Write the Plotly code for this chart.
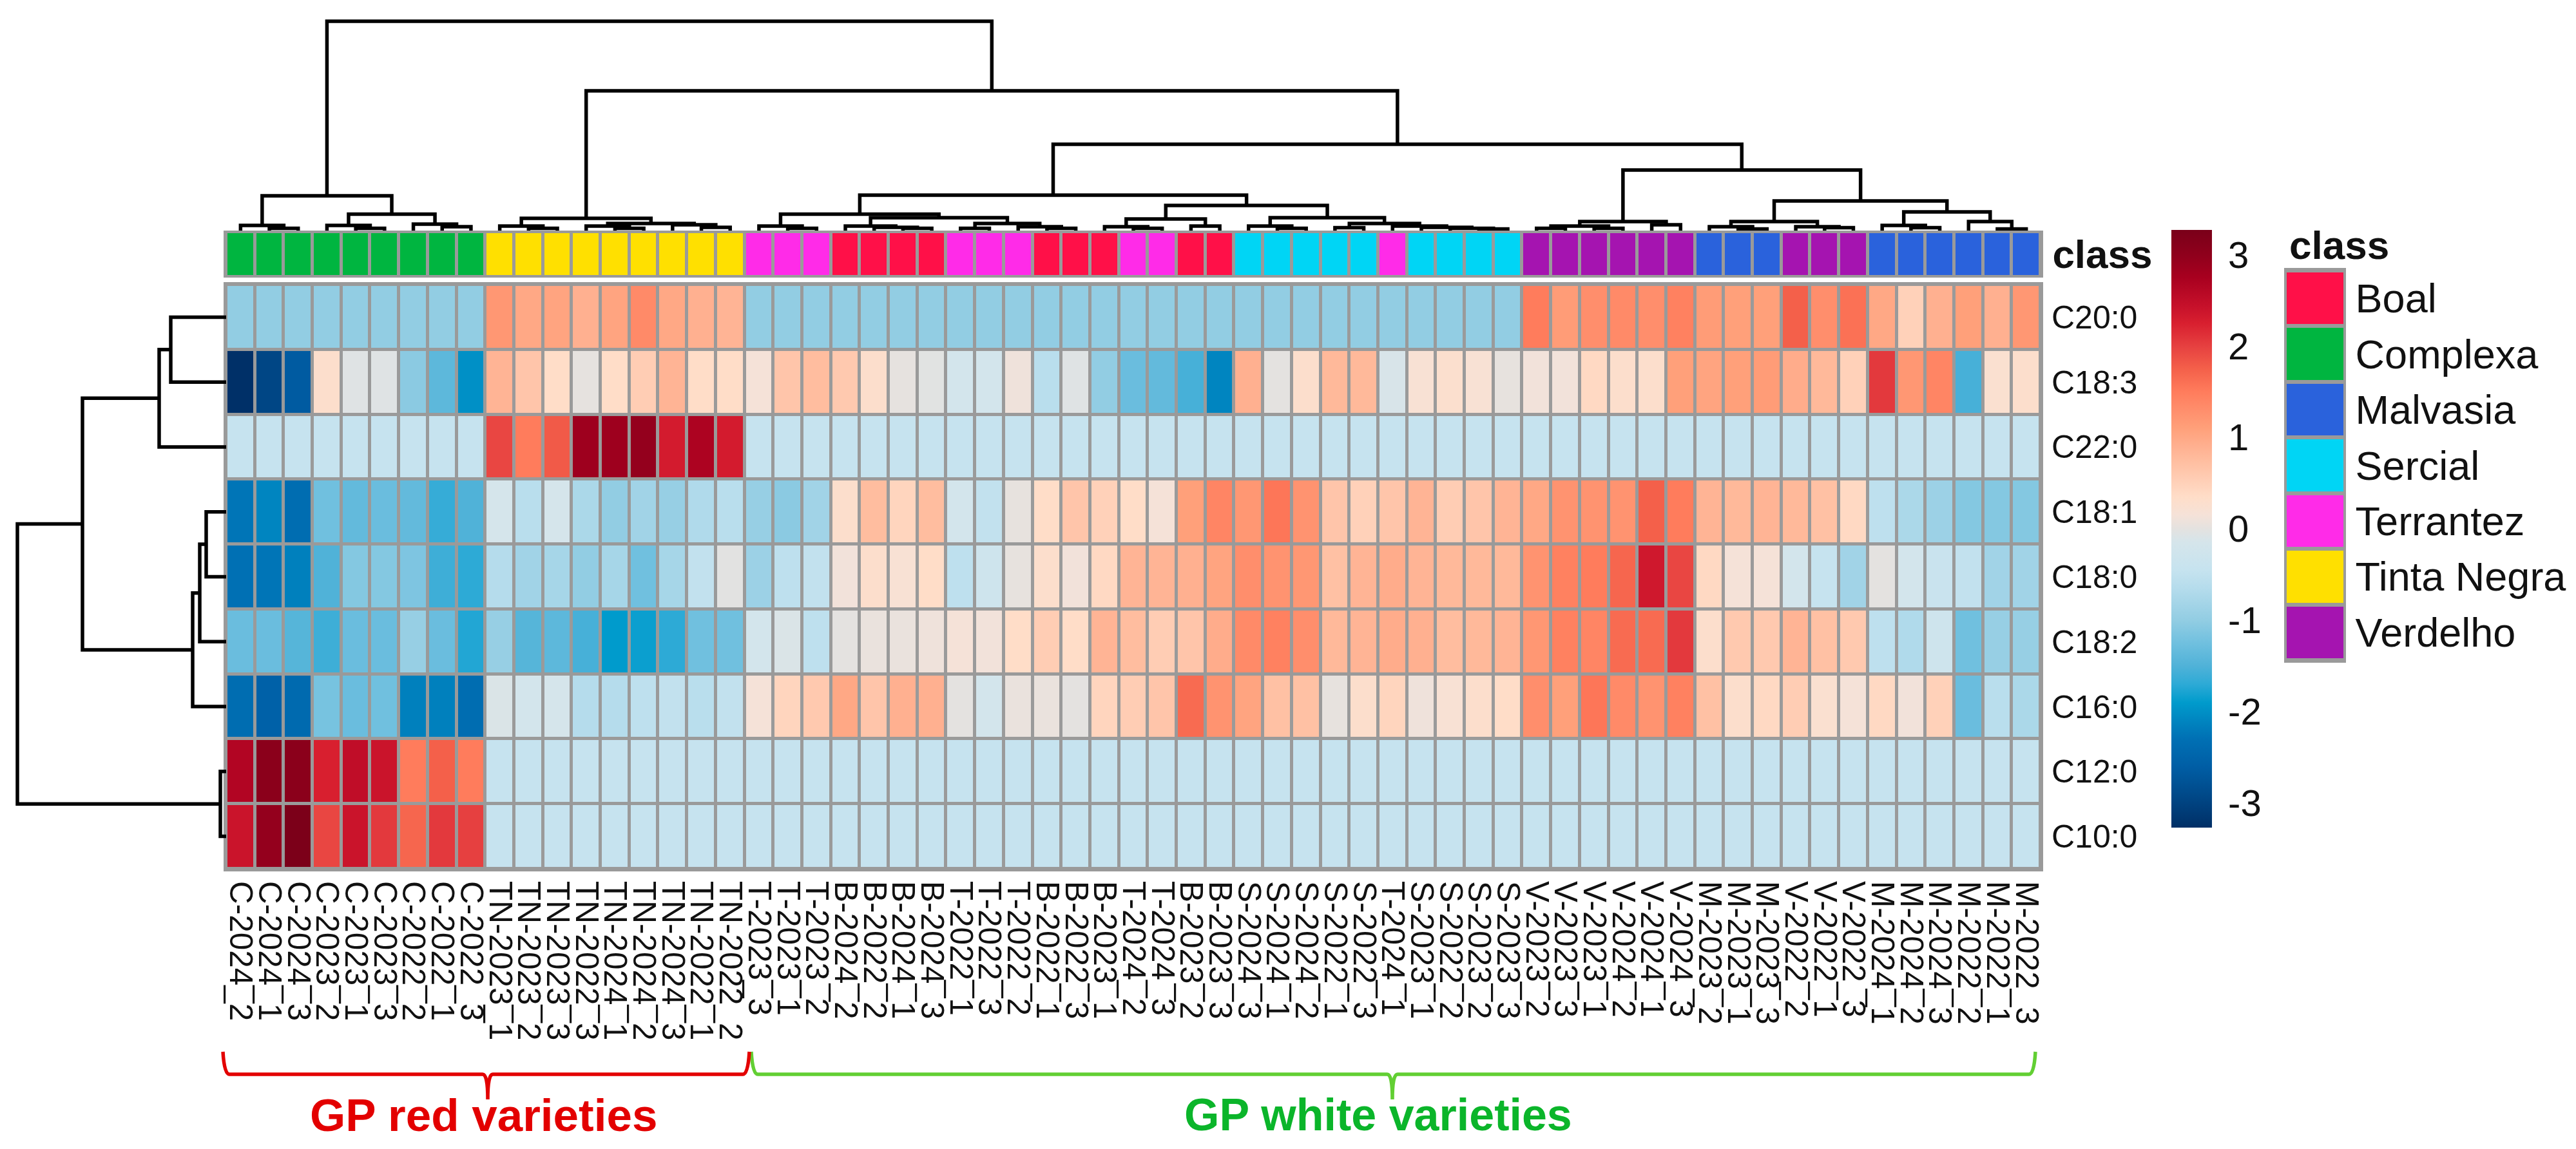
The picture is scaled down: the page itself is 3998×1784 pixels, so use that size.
import plotly.graph_objects as go

W, H = 3998, 1784
FONT = "Liberation Sans"

samples = ["C-2024_2","C-2024_1","C-2024_3","C-2023_2","C-2023_1","C-2023_3","C-2022_2","C-2022_1","C-2022_3",
 "TN-2023_1","TN-2023_2","TN-2023_3","TN-2022_3","TN-2024_1","TN-2024_2","TN-2024_3","TN-2022_1","TN-2022_2",
 "T-2023_3","T-2023_1","T-2023_2","B-2024_2","B-2022_2","B-2024_1","B-2024_3","T-2022_1","T-2022_3","T-2022_2",
 "B-2022_1","B-2022_3","B-2023_1","T-2024_2","T-2024_3","B-2023_2","B-2023_3",
 "S-2024_3","S-2024_1","S-2024_2","S-2022_1","S-2022_3","T-2024_1","S-2023_1","S-2022_2","S-2023_2","S-2023_3",
 "V-2023_2","V-2023_3","V-2023_1","V-2024_2","V-2024_1","V-2024_3","M-2023_2","M-2023_1","M-2023_3",
 "V-2022_2","V-2022_1","V-2022_3","M-2024_1","M-2024_2","M-2024_3","M-2022_2","M-2022_1","M-2022_3"]
lipids = ["C20:0","C18:3","C22:0","C18:1","C18:0","C18:2","C16:0","C12:0","C10:0"]
classes = ["Boal","Complexa","Malvasia","Sercial","Terrantez","Tinta Negra","Verdelho"]
class_colors = ["#FF1048","#00B540","#2A62DC","#00D5F5","#FF2BE8","#FFE000","#A514B0"]
prefix_class = {"B":0,"C":1,"M":2,"S":3,"T":4,"TN":5,"V":6}

C20_0 = [-1.0]*9 + [1.2,1.0,1.05,.9,1.05,1.35,1.0,.9,.85] + [-1.0]*27 + \
        [1.5,1.15,1.3,1.35,1.3,1.45,1.15,1.1,1.1,1.75,1.3,1.6,1.0,.5,.9,1.1,.9,1.2]
C18_3 = [-3.25,-2.95,-2.65,.3,-.05,-.05,-1.05,-1.4,-2.0, .85,.65,.35,.02,.35,.55,.85,.35,.35,
         .15,.65,.75,.6,.3,.02,-.03,-.2,-.2,.1,-.6,-.05,-1.0,-1.3,-1.35,-1.55,-2.1,.9,0,.3,.8,.8,-.12,.2,.28,.2,.03,
         .12,.12,.4,.3,.3,1.1,1.05,1.1,1.15,.95,.8,.5,2.05,1.2,1.4,-1.55,.25,.3]
C22_0 = [-.45]*9 + [1.95,1.5,1.8,2.85,2.85,2.95,2.3,2.7,2.3] + [-.45]*45
C18_1 = [-2.25,-2.1,-2.35,-1.25,-1.35,-1.3,-1.35,-1.65,-1.5, -.15,-.6,-.15,-.75,-1.0,-.85,-.95,-.7,-.6,
         -.95,-1.05,-.85,.3,.75,.45,.75,-.2,-.5,.03,.35,.65,.5,.35,.15,1.1,1.4,1.2,1.55,1.25,.65,.5,.65,.85,.55,.65,.85,
         1.0,1.25,1.25,1.25,1.75,1.5,.85,.8,.85,.8,.7,.4,-.55,-.75,-.9,-1.1,-1.1,-1.1]
C18_0 = [-2.3,-2.25,-2.15,-1.5,-1.1,-1.1,-1.15,-1.6,-1.7, -.65,-.85,-.8,-1.0,-.8,-1.25,-.8,-.5,-.02,
         -.9,-.55,-.5,.12,.3,.2,.35,-.55,-.3,.03,.3,.12,.4,.85,.85,.9,1.05,1.3,1.25,1.2,.7,.85,.95,.85,.8,.8,.8,
         1.25,1.45,1.5,1.7,2.35,1.95,.4,.15,.15,-.2,-.45,-.85,0,-.2,-.4,-.5,-.85,-.85]
C18_2 = [-1.3,-1.3,-1.45,-1.6,-1.3,-1.3,-.95,-1.3,-1.75, -.95,-1.45,-1.4,-1.55,-1.9,-1.85,-1.7,-1.25,-1.25,
         -.2,-.1,-.55,0,.05,.05,.1,.15,.12,.35,.55,.35,.85,.75,.55,.65,.95,1.35,1.45,1.3,.8,.85,.95,.9,.75,.8,.85,
         1.2,1.45,1.4,1.65,1.65,2.05,.3,.6,.6,.85,.7,.6,-.55,-.7,-.3,-1.25,-.95,-.95]
C16_0 = [-2.35,-2.55,-2.4,-1.2,-1.3,-1.25,-2.15,-2.15,-2.35, -.1,-.2,-.15,-.65,-.65,-.55,-.5,-.6,-.5,
         .15,.45,.6,1.0,.65,.9,.9,0,-.2,.05,.05,0,.45,.55,.65,1.65,1.25,1.05,.7,.7,.03,.3,.45,.1,.2,.3,.35,
         1.3,1.1,1.55,1.35,1.25,1.45,.7,.3,.4,.55,.25,.15,.4,.12,.5,-1.3,-.6,-.75]
C12_0 = [2.65,3.05,3.05,2.25,2.5,2.4,1.5,1.75,1.5] + [-.45]*54
C10_0 = [2.4,2.95,3.25,1.95,2.4,2.05,1.7,2.05,2.0] + [-.45]*54

# dendrograms: [merge distance, left, right]; ints are leaf positions
col_tree = [325,
 [54,[8,0,[3.5,1,2]],[25.5,[8,3,[3.5,4,5]],[10,6,[6,7,8]]]],
 [217,
  [19,[7,9,[3.5,10,11]],[11,[7,12,[3.5,13,14]],[9,15,[5,16,17]]]],
  [134,
   [55,[25.5,[7,18,[3.5,19,20]],[20,[7,21,[5,22,[3.5,23,24]]],[11,[3.5,25,26],[6,27,[3.5,28,29]]]]],
       [39,[18,[6,30,[3.5,31,32]],[7,33,34]],
           [20,[7,35,[3.5,36,37]],[11,[4.5,38,39],[7,40,[5,41,[3.5,42,[2.5,43,44]]]]]]]],
   [94,[14,[7,[3.5,45,46],[3.5,47,48]],[9,49,50]],
       [46,[14,[6,51,[2.5,52,53]],[6,54,[4.5,55,56]]],
           [29,[8,57,[4.5,58,59]],[14,60,[2.5,61,62]]]]]]]]
row_tree = [324,[223,[104,[86,0,1],2],[52,[41,[31,3,4],5],6]],[9,7,8]]

color_stops = [(3.27,"#7a0019"),(3.0,"#8f001c"),(2.75,"#a8001f"),(2.45,"#c5102a"),(2.25,"#d81f2f"),(2.0,"#e64040"),
 (1.75,"#f4604a"),(1.5,"#ff7c5c"),(1.3,"#ff8e6c"),(1.1,"#ffa07a"),(.9,"#ffb090"),(.75,"#ffbd9f"),(.55,"#ffcdb4"),
 (.35,"#ffddc8"),(.15,"#f5e2d8"),(0,"#e4e2e0"),(-.15,"#d5e5eb"),(-.45,"#c6e3ef"),(-.65,"#b5dcec"),(-1,"#92cde3"),
 (-1.25,"#70c0df"),(-1.5,"#50b2d8"),(-1.7,"#2daad6"),(-1.9,"#009bcc"),(-2.1,"#0085c0"),(-2.3,"#0070b4"),
 (-2.6,"#005ea5"),(-2.9,"#004a8a"),(-3.27,"#002f66")]
ZMAX = 3.27
GRID = "#9a9a9a"

matrix = [C20_0,C18_3,C22_0,C18_1,C18_0,C18_2,C16_0,C12_0,C10_0]
scale = sorted(((v+ZMAX)/(2*ZMAX), c) for v, c in color_stops)
n = len(classes)
disc = []
for i, c in enumerate(class_colors):
    disc += [[i/n, c], [(i+1)/n, c]]

def dx(a, b): return [a/W, b/W]
def dy(top, bottom): return [1-bottom/H, 1-top/H]

def walk(node, xs, ys):
    """returns (position, distance) of node, appending its segments"""
    if isinstance(node, int):
        return node, 0
    h, l, r = node
    pl, hl = walk(l, xs, ys)
    pr, hr = walk(r, xs, ys)
    xs += [pl, pl, pr, pr, None]
    ys += [hl, h, h, hr, None]
    return (pl+pr)/2, h

fig = go.Figure()

# main heatmap
fig.add_trace(go.Heatmap(z=matrix, x=list(range(63)), y=list(range(9)), colorscale=scale, zmin=-ZMAX, zmax=ZMAX,
    xgap=5, ygap=5, xaxis="x", yaxis="y", hoverongaps=False,
    colorbar=dict(x=3370/W, xanchor="left", y=1-821/H, yanchor="middle", lenmode="pixels", len=928,
                  thicknessmode="pixels", thickness=63, xpad=0, ypad=0, outlinewidth=0,
                  tickmode="array", tickvals=[-3,-2,-1,0,1,2,3], ticktext=["-3","-2","-1","0","1","2","3"],
                  ticks="outside", ticklen=14, tickcolor="rgba(0,0,0,0)",
                  tickfont=dict(family=FONT, size=58, color="#111"))))

# class annotation bar
sample_class = [prefix_class[s.split("-")[0]] for s in samples]
fig.add_trace(go.Heatmap(z=[sample_class], x=list(range(63)), y=[0], colorscale=disc, zmin=-.5, zmax=n-.5,
    showscale=False, xgap=5, ygap=0, xaxis="x2", yaxis="y2"))

# class legend
fig.add_trace(go.Heatmap(z=[[i] for i in range(n)], x=[0], y=list(range(n)), colorscale=disc, zmin=-.5, zmax=n-.5,
    showscale=False, ygap=6, xaxis="x3", yaxis="y3"))

# dendrograms
xs, ys = [], []
walk(col_tree, xs, ys)
fig.add_trace(go.Scatter(x=xs, y=ys, mode="lines", line=dict(color="black", width=5.5), xaxis="x4", yaxis="y4",
                         showlegend=False, cliponaxis=False, hoverinfo="skip"))
xs, ys = [], []
walk(row_tree, xs, ys)
fig.add_trace(go.Scatter(x=ys, y=xs, mode="lines", line=dict(color="black", width=5.5), xaxis="x5", yaxis="y5",
                         showlegend=False, cliponaxis=False, hoverinfo="skip"))

hidden = dict(visible=False, showgrid=False, zeroline=False, fixedrange=True)
HX = dx(351, 3167)
border = dict(showline=True, linecolor=GRID, linewidth=4, mirror=True, showgrid=False, zeroline=False, fixedrange=True)
clear = "rgba(0,0,0,0)"

fig.update_layout(
    width=W, height=H, margin=dict(l=0, r=0, t=0, b=0, pad=0, autoexpand=False),
    paper_bgcolor="white", plot_bgcolor="white", showlegend=False,
    font=dict(family=FONT, color="#111"),
    xaxis=dict(domain=HX, range=[-.5,62.5], tickmode="array", tickvals=list(range(63)), ticktext=samples,
               tickangle=90, tickfont=dict(family=FONT, size=49.5, color="#111"), ticks="outside", ticklen=5,
               tickcolor=clear, **border),
    yaxis=dict(domain=dy(442,1349), range=[8.5,-.5], side="right", tickmode="array", tickvals=list(range(9)),
               ticktext=lipids, tickfont=dict(family=FONT, size=50, color="#111"), ticks="outside", ticklen=3,
               tickcolor=clear, **border),
    xaxis2=dict(domain=HX, range=[-.5,62.5], showticklabels=False, ticks="", anchor="y2", **border),
    yaxis2=dict(domain=dy(362,427), range=[-.5,.5], side="right", anchor="x2", tickmode="array", tickvals=[0],
                ticktext=["<b>class</b>"], tickfont=dict(family=FONT, size=62, color="#111"), ticks="outside",
                ticklen=2, tickcolor=clear, **border),
    xaxis3=dict(domain=dx(3549,3637), range=[-.5,.5], showticklabels=False, ticks="", anchor="y3", **border),
    yaxis3=dict(domain=dy(420,1025), range=[n-.5,-.5], side="right", anchor="x3", tickmode="array",
                tickvals=list(range(n)), ticktext=classes, tickfont=dict(family=FONT, size=63, color="#111"),
                ticks="outside", ticklen=2, tickcolor=clear, **border),
    xaxis4=dict(domain=HX, range=[-.5,62.5], anchor="y4", **hidden),
    yaxis4=dict(domain=dy(20,358), range=[0,338], anchor="x4", **hidden),
    xaxis5=dict(domain=dx(0,351), range=[351,0], anchor="y5", **hidden),
    yaxis5=dict(domain=dy(442,1349), range=[8.5,-.5], anchor="x5", **hidden),
)

def backing(xd, yd):
    return dict(type="rect", xref="paper", yref="paper", x0=xd[0], x1=xd[1], y0=yd[0], y1=yd[1],
                fillcolor=GRID, line=dict(width=0), layer="below")

def bracket(left, right, stem, color):
    top, mid, tip = 1633, 1668, 1707
    X = lambda v: v/W
    Y = lambda v: 1-v/H
    p = (f"M {X(left)} {Y(top)} Q {X(left+2)} {Y(mid)} {X(left+10)} {Y(mid)} L {X(stem-8)} {Y(mid)} "
         f"Q {X(stem)} {Y(mid)} {X(stem)} {Y(tip)} Q {X(stem)} {Y(mid)} {X(stem+8)} {Y(mid)} "
         f"L {X(right-10)} {Y(mid)} Q {X(right-2)} {Y(mid)} {X(right)} {Y(top)}")
    return dict(type="path", xref="paper", yref="paper", path=p, line=dict(color=color, width=5.5))

fig.update_layout(shapes=[
    backing(HX, dy(442,1349)), backing(HX, dy(362,427)), backing(dx(3549,3637), dy(420,1025)),
    bracket(1166, 3159, 2161, "#62CF33"),
    bracket(346, 1163, 757, "#E30000"),
])

fig.add_annotation(text="<b>class</b>", x=3551/W, y=1-380/H, xref="paper", yref="paper", xanchor="left",
                   yanchor="middle", showarrow=False, font=dict(family=FONT, size=62, color="#111"))
fig.add_annotation(text="<b>GP red varieties</b>", x=750/W, y=1-1731/H, xref="paper", yref="paper", xanchor="center",
                   yanchor="middle", showarrow=False, font=dict(family=FONT, size=71, color="#E30000"))
fig.add_annotation(text="<b>GP white varieties</b>", x=2139/W, y=1-1731/H, xref="paper", yref="paper", xanchor="center",
                   yanchor="middle", showarrow=False, font=dict(family=FONT, size=70, color="#0BB52A"))

fig.write_html("out.html", config={"displayModeBar": False},
               post_script="document.body.style.margin='0';document.body.style.overflow='hidden';")
